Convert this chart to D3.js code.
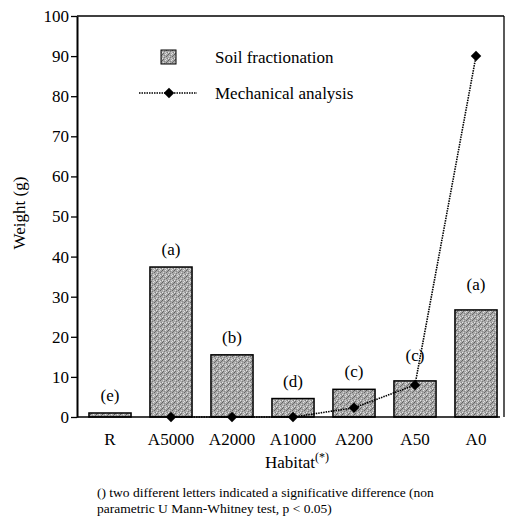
<!DOCTYPE html>
<html>
<head>
<meta charset="utf-8">
<script src="https://cdn.jsdelivr.net/npm/d3@7"></script>
<style>
  body { margin: 0; background: #fff; }
  text { font-family: "Liberation Serif", "Times New Roman", Tinos, "DejaVu Serif", serif !important; }
</style>
</head>
<body>
<svg id="chart" width="506" height="518"></svg>
<script>
// data
var habitats = ["R", "A5000", "A2000", "A1000", "A200", "A50", "A0"];
var soilFractionation = [1, 37.4, 15.5, 4.6, 6.9, 9.0, 26.7];
var mechanical = [null, 0, 0, 0, 2.3, 8, 90];
var letters = ["(e)", "(a)", "(b)", "(d)", "(c)", "(c)", "(a)"];
var yTicks = [0, 10, 20, 30, 40, 50, 60, 70, 80, 90, 100];

var svg = d3.select("#chart"),
  MARGINS = { top: 16, right: 2, bottom: 101, left: 77 },
  WIDTH = 506,
  HEIGHT = 518,
  FONT = "'Liberation Serif', 'Times New Roman', Tinos, 'DejaVu Serif', serif";

var xScale = d3.scaleBand()
  .domain(habitats)
  .range([79.5, 506.5])
  .paddingInner(0.31)
  .paddingOuter(0.155);

var yScale = d3.scaleLinear()
  .domain([0, 100])
  .range([HEIGHT - MARGINS.bottom, MARGINS.top]);

// stippled grey fill for the bars (hand-placed speckles in a 6x6 tile)
var defs = svg.append("defs");
var pat = defs.append("pattern")
  .attr("id", "stipple")
  .attr("patternUnits", "userSpaceOnUse")
  .attr("width", 6).attr("height", 6);
pat.append("rect").attr("width", 6).attr("height", 6).attr("fill", "#a9a9a9");
var specks = [[0, 0, "#5e5e5e"], [3, 0, "#e2e2e2"], [5, 1, "#707070"], [1, 2, "#d8d8d8"],
  [4, 2, "#666"], [2, 3, "#7a7a7a"], [0, 4, "#e6e6e6"], [3, 4, "#cfcfcf"],
  [5, 4, "#808080"], [1, 5, "#6a6a6a"], [4, 5, "#dedede"], [2, 1, "#8a8a8a"]];
specks.forEach(function (s) {
  pat.append("rect").attr("x", s[0]).attr("y", s[1]).attr("width", 1).attr("height", 1).attr("fill", s[2]);
});

// frame (top and right)
svg.append("line")
  .attr("x1", MARGINS.left).attr("x2", WIDTH - MARGINS.right)
  .attr("y1", yScale(100)).attr("y2", yScale(100))
  .attr("stroke", "#000").attr("stroke-width", 1.3);
svg.append("line")
  .attr("x1", WIDTH - MARGINS.right).attr("x2", WIDTH - MARGINS.right)
  .attr("y1", yScale(100)).attr("y2", yScale(0))
  .attr("stroke", "#000").attr("stroke-width", 1.3);

// bars
svg.selectAll("rect.bar")
  .data(soilFractionation)
  .enter().append("rect")
  .attr("class", "bar")
  .attr("x", function (d, i) { return xScale(habitats[i]); })
  .attr("width", xScale.bandwidth())
  .attr("y", function (d) { return yScale(d); })
  .attr("height", function (d) { return yScale(0) - yScale(d); })
  .attr("fill", "url(#stipple)")
  .attr("stroke", "#000")
  .attr("stroke-width", 1.5);

// letters above bars (last two sit a bit higher)
svg.selectAll("text.letter")
  .data(letters)
  .enter().append("text")
  .attr("class", "letter")
  .attr("x", function (d, i) { return xScale(habitats[i]) + xScale.bandwidth() / 2; })
  .attr("y", function (d, i) {
    return yScale(soilFractionation[i]) - (i >= 5 ? 20 : 12);
  })
  .attr("text-anchor", "middle")
  .style("font-family", FONT)
  .style("font-size", "17px")
  .text(function (d) { return d; });

// axes
var yAxis = d3.axisLeft(yScale).tickValues(yTicks).tickSize(6).tickSizeOuter(0);
var gy = svg.append("g")
  .attr("transform", "translate(" + MARGINS.left + ",0)")
  .call(yAxis)
  .attr("font-family", FONT);
gy.select(".domain").attr("stroke-width", 2);
gy.selectAll(".tick line").attr("stroke-width", 1.3);
gy.selectAll(".tick text")
  .attr("x", -8)
  .style("font-family", FONT)
  .style("font-size", "17px")
  .attr("fill", "#000");

var xAxis = d3.axisBottom(xScale).tickSize(0).tickSizeOuter(0);
var gx = svg.append("g")
  .attr("transform", "translate(0," + yScale(0) + ")")
  .call(xAxis)
  .attr("font-family", FONT);
gx.select(".domain").attr("d", "M" + MARGINS.left + ",0H" + (WIDTH - 6)).attr("stroke-width", 1.5);
gx.selectAll(".tick text")
  .attr("y", 16)
  .attr("dy", "0.71em")
  .style("font-family", FONT)
  .style("font-size", "17px")
  .attr("fill", "#000");

// mechanical analysis line
var lineData = mechanical.map(function (v, i) { return { k: habitats[i], v: v }; })
  .filter(function (d) { return d.v !== null; });
var line = d3.line()
  .x(function (d) { return xScale(d.k) + xScale.bandwidth() / 2; })
  .y(function (d) { return yScale(d.v); });
svg.append("path")
  .datum(lineData)
  .attr("d", line)
  .attr("fill", "none")
  .attr("stroke", "#000")
  .attr("stroke-width", 1.6)
  .attr("stroke-dasharray", "1.5,1");

var diamond = d3.symbol().type(d3.symbolDiamond2).size(70);
svg.selectAll("path.pt")
  .data(lineData)
  .enter().append("path")
  .attr("class", "pt")
  .attr("d", diamond)
  .attr("transform", function (d) {
    return "translate(" + (xScale(d.k) + xScale.bandwidth() / 2) + "," + yScale(d.v) + ")";
  })
  .attr("fill", "#000");

// legend
var legend = svg.append("g");
legend.append("rect")
  .attr("x", 161).attr("y", 50).attr("width", 15).attr("height", 14)
  .attr("fill", "url(#stipple)").attr("stroke", "#000").attr("stroke-width", 1);
legend.append("text")
  .attr("x", 215).attr("y", 63)
  .style("font-family", FONT)
  .style("font-size", "17px")
  .text("Soil fractionation");
legend.append("line")
  .attr("x1", 139).attr("x2", 197).attr("y1", 93).attr("y2", 93)
  .attr("stroke", "#000").attr("stroke-width", 1.6)
  .attr("stroke-dasharray", "1.5,1");
legend.append("path")
  .attr("d", diamond)
  .attr("transform", "translate(169,93)")
  .attr("fill", "#000");
legend.append("text")
  .attr("x", 215).attr("y", 99)
  .style("font-family", FONT)
  .style("font-size", "17px")
  .text("Mechanical analysis");

// axis titles
svg.append("text")
  .attr("transform", "translate(25," + 213 + ") rotate(-90)")
  .attr("text-anchor", "middle")
  .style("font-family", FONT)
  .style("font-size", "17px")
  .text("Weight (g)");

var xt = svg.append("text")
  .attr("x", 297).attr("y", 468)
  .attr("text-anchor", "middle")
  .style("font-family", FONT)
  .style("font-size", "17px");
xt.append("tspan").text("Habitat");
xt.append("tspan").attr("dy", -7).style("font-size", "12px").text("(*)");

// footnote
var foot = ["() two different letters indicated a significative difference (non",
  "parametric U Mann-Whitney test, p < 0.05)"];
svg.selectAll("text.foot")
  .data(foot)
  .enter().append("text")
  .attr("class", "foot")
  .attr("x", 97)
  .attr("y", function (d, i) { return 497 + i * 16; })
  .style("font-family", FONT)
  .style("font-size", "13.5px")
  .text(function (d) { return d; });
</script>
</body>
</html>
